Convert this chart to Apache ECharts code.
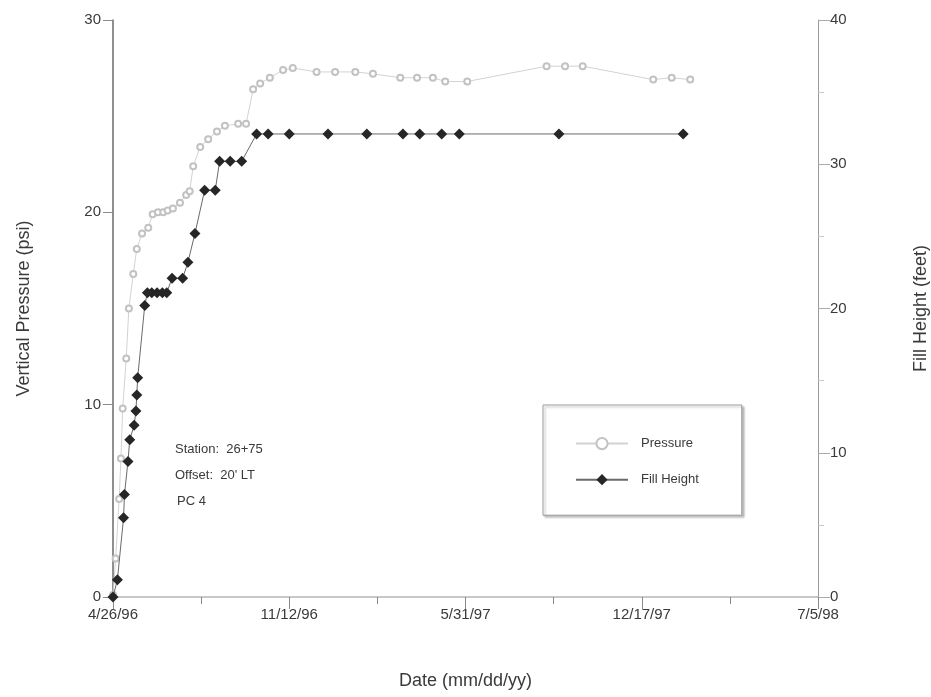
<!DOCTYPE html>
<html>
<head>
<meta charset="utf-8">
<script src="https://cdn.jsdelivr.net/npm/echarts@6/dist/echarts.min.js"></script>
<style>
  html, body { margin: 0; padding: 0; background: #fff; }
  #chart { width: 931px; height: 697px; }
</style>
</head>
<body>
<div id="chart"></div>
<script>
// x values are days since 4/26/96
const dateLabels = ['4/26/96', '11/12/96', '5/31/97', '12/17/97', '7/5/98'];

const pressureDays = [0, 3, 7, 9, 11, 15, 18, 23, 27, 33, 40, 45, 51, 57, 62, 68, 76, 83, 87, 91, 99, 108, 118, 127, 142, 151,
  159, 167, 178, 193, 204, 231, 252, 275, 295, 326, 345, 363, 377, 402, 492, 513, 533, 613, 634, 655];
const pressurePsi = [0.1, 2.0, 5.1, 7.2, 9.8, 12.4, 15.0, 16.8, 18.1, 18.9, 19.2, 19.9, 20.0, 20.0, 20.1, 20.2, 20.5, 20.9, 21.1, 22.4, 23.4, 23.8, 24.2, 24.5, 24.6, 24.6,
  26.4, 26.7, 27.0, 27.4, 27.5, 27.3, 27.3, 27.3, 27.2, 27.0, 27.0, 27.0, 26.8, 26.8, 27.6, 27.6, 27.6, 26.9, 27.0, 26.9];

const fillDays = [0, 5, 12, 13, 17, 19, 24, 26, 27, 28, 36, 39, 44, 50, 56, 61, 67, 79, 85, 93, 104, 116, 121, 133, 146,
  163, 176, 200, 244, 288, 329, 348, 373, 393, 506, 647];
const fillFeet = [0, 1.2, 5.5, 7.1, 9.4, 10.9, 11.9, 12.9, 14.0, 15.2, 20.2, 21.1, 21.1, 21.1, 21.1, 21.1, 22.1, 22.1, 23.2, 25.2, 28.2, 28.2, 30.2, 30.2, 30.2,
  32.1, 32.1, 32.1, 32.1, 32.1, 32.1, 32.1, 32.1, 32.1, 32.1, 32.1];

const noteLines = ['Station:  26+75', "Offset:  20' LT", 'PC 4'];

const font = '"Liberation Sans", Arial, sans-serif';
const axisGray = '#8a8a8a';
const textColor = '#3a3a3a';

const chart = echarts.init(document.getElementById('chart'));

const option = {
  backgroundColor: '#fff',
  animation: false,
  textStyle: { fontFamily: font },
  grid: { left: 113, right: 113, top: 20, bottom: 100, outerBoundsMode: 'none' },
  legend: {
    orient: 'vertical',
    left: 543,
    top: 405,
    padding: [32, 43, 29, 32],
    itemGap: 23,
    itemWidth: 52,
    itemHeight: 14,
    backgroundColor: '#fff',
    borderColor: '#9a9a9a',
    borderWidth: 1,
    shadowColor: 'rgba(0,0,0,0.25)',
    shadowOffsetX: 2,
    shadowOffsetY: 2,
    shadowBlur: 2,
    textStyle: { fontFamily: font, fontSize: 13, color: textColor, padding: [0, 0, 0, 8] },
    data: ['Pressure', 'Fill Height']
  },
  xAxis: {
    type: 'value',
    min: 0,
    max: 800,
    interval: 200,
    name: 'Date (mm/dd/yy)',
    nameLocation: 'middle',
    nameGap: 75,
    nameTextStyle: { fontSize: 18, color: textColor, fontFamily: font },
    axisLine: { lineStyle: { color: '#b5b5b5', width: 1.5 } },
    axisTick: { show: true, length: 12, inside: false, lineStyle: { color: axisGray } },
    minorTick: { show: true, splitNumber: 2, length: 7, lineStyle: { color: axisGray } },
    splitLine: { show: false },
    axisLabel: {
      fontSize: 15,
      color: textColor,
      margin: 10,
      formatter: v => dateLabels[Math.round(v / 200)]
    }
  },
  yAxis: [
    {
      type: 'value',
      min: 0,
      max: 30,
      interval: 10,
      position: 'left',
      name: 'Vertical Pressure (psi)',
      nameLocation: 'middle',
      nameGap: 80,
      nameTextStyle: { fontSize: 18, color: textColor, fontFamily: font },
      axisLine: { show: true, lineStyle: { color: '#6a6a6a', width: 1.5 } },
      axisTick: { show: true, length: 10, lineStyle: { color: axisGray } },
      splitLine: { show: false },
      axisLabel: { fontSize: 15, color: textColor, margin: 12 }
    },
    {
      type: 'value',
      min: 0,
      max: 40,
      interval: 10,
      position: 'right',
      name: 'Fill Height (feet)',
      nameLocation: 'middle',
      nameGap: 94,
      nameTextStyle: { fontSize: 18, color: textColor, fontFamily: font },
      axisLine: { show: true, lineStyle: { color: '#9a9a9a', width: 1 } },
      axisTick: { show: true, length: 12, lineStyle: { color: '#aaa' } },
      minorTick: { show: true, splitNumber: 2, length: 6, lineStyle: { color: '#c8c8c8' } },
      splitLine: { show: false },
      axisLabel: { fontSize: 15, color: textColor, margin: 12 }
    }
  ],
  graphic: noteLines.map((t, i) => ({
    type: 'text',
    left: i === 2 ? 177 : 175,
    top: 443 + i * 26,
    style: { text: t, font: '13px ' + font, fill: textColor }
  })),
  series: [
    {
      name: 'Pressure',
      type: 'line',
      yAxisIndex: 0,
      data: pressureDays.map((d, i) => [d, pressurePsi[i]]),
      symbol: 'emptyCircle',
      symbolSize: 6,
      showAllSymbol: true,
      lineStyle: { color: '#d2d2d2', width: 1 },
      itemStyle: { color: '#c2c2c2', borderColor: '#c2c2c2', borderWidth: 1 },
      z: 2
    },
    {
      name: 'Fill Height',
      type: 'line',
      yAxisIndex: 1,
      data: fillDays.map((d, i) => [d, fillFeet[i]]),
      symbol: 'diamond',
      symbolSize: 11,
      showAllSymbol: true,
      lineStyle: { color: '#6a6a6a', width: 1 },
      itemStyle: { color: '#262626' },
      z: 3
    }
  ]
};

chart.setOption(option);
</script>
</body>
</html>
